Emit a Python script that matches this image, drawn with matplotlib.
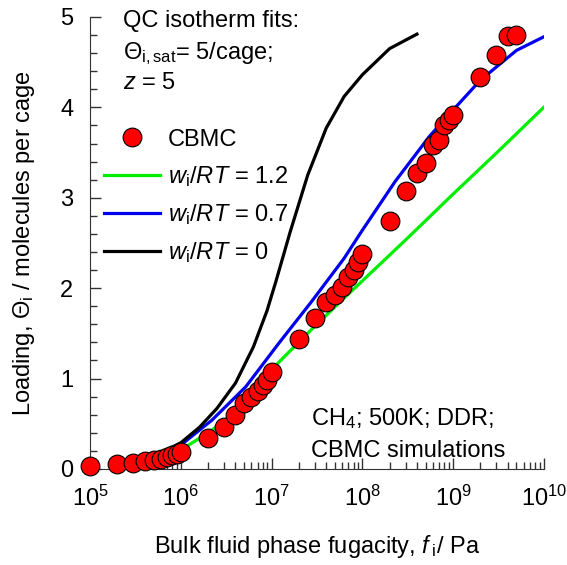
import numpy as np
import matplotlib
matplotlib.use("Agg")
import matplotlib.pyplot as plt
from matplotlib.ticker import LogLocator, MultipleLocator, NullFormatter

plt.rcParams['font.family'] = ['Liberation Sans', 'DejaVu Sans']
plt.rcParams['mathtext.fontset'] = 'custom'
plt.rcParams['mathtext.rm'] = 'Liberation Sans'
plt.rcParams['mathtext.it'] = 'Liberation Sans:italic'
plt.rcParams['mathtext.bf'] = 'Liberation Sans:bold'

# CBMC simulation data
cbmc_f = [1e5, 2e5, 3e5, 4e5, 5e5, 6e5, 7e5, 8e5, 9e5, 1e6,
          2e6, 3e6, 4e6, 5e6, 6e6, 7e6, 8e6, 9e6, 1e7,
          2e7, 3e7, 4e7, 5e7, 6e7, 7e7, 8e7, 9e7, 1e8,
          2e8, 3e8, 4e8, 5e8, 6e8, 7e8, 8e8, 9e8, 1e9,
          2e9, 3e9, 4e9, 5e9]
cbmc_q = [0.03, 0.05, 0.07, 0.09, 0.10, 0.11, 0.13, 0.15, 0.17, 0.19,
          0.34, 0.46, 0.60, 0.73, 0.80, 0.86, 0.93, 0.98, 1.07,
          1.44, 1.67, 1.85, 1.92, 2.01, 2.12, 2.20, 2.29, 2.38,
          2.74, 3.08, 3.27, 3.38, 3.58, 3.64, 3.80, 3.86, 3.92,
          4.34, 4.58, 4.79, 4.80]

# QC isotherm fits
f_w12 = [5e5, 1e6, 2e6, 3.2e6, 5.2e6, 1e7, 2.8e7, 6e7, 1e8,
         3.2e8, 1e9, 3.2e9, 1e10]
q_w12 = [0.10, 0.21, 0.40, 0.55, 0.80, 1.10, 1.55, 1.87, 2.08,
         2.56, 3.04, 3.52, 4.00]

f_w07 = [5e5, 1e6, 2.2e6, 5.2e6, 1.2e7, 2.8e7, 6.3e7, 1e8, 2.3e8,
         5.5e8, 1e9, 2e9, 5e9, 1e10]
q_w07 = [0.12, 0.265, 0.54, 0.91, 1.39, 1.86, 2.33, 2.64, 3.18,
         3.68, 3.97, 4.30, 4.63, 4.78]

f_w0 = [5e5, 1e6, 1.6e6, 2.5e6, 4e6, 6.3e6, 8.9e6, 1.12e7, 1.6e7,
        2.5e7, 4e7, 6.3e7, 1e8, 2e8, 4e8]
q_w0 = [0.14, 0.29, 0.46, 0.67, 0.95, 1.35, 1.75, 2.08, 2.62,
        3.25, 3.77, 4.12, 4.36, 4.65, 4.81]

fs = 17

fig = plt.figure(figsize=(5.67, 5.65), dpi=100)
ax = fig.add_axes([0.159, 0.170, 0.800, 0.800])

ax.plot(cbmc_f, cbmc_q, 'o', ms=13.5, mfc='red', mec='black', mew=0.8,
        label='CBMC', zorder=3, clip_on=False)
ax.plot(f_w12, q_w12, color='#00ee00', lw=2.3, label=r'$w_\mathrm{i}/RT$ = 1.2')
ax.plot(f_w07, q_w07, color='#0000ee', lw=2.3, label=r'$w_\mathrm{i}/RT$ = 0.7')
ax.plot(f_w0, q_w0, color='black', lw=2.3, label=r'$w_\mathrm{i}/RT$ = 0')

ax.set_xscale('log')
ax.set_xlim(1e5, 1e10)
ax.set_ylim(0, 5)
ax.xaxis.set_major_locator(LogLocator(base=10, numticks=10))
ax.xaxis.set_minor_locator(LogLocator(base=10, subs=np.arange(2, 10), numticks=20))
ax.xaxis.set_minor_formatter(NullFormatter())
ax.yaxis.set_major_locator(MultipleLocator(1))
ax.yaxis.set_minor_locator(MultipleLocator(0.2))

for side in ['top', 'right']:
    ax.spines[side].set_visible(False)
for side in ['left', 'bottom']:
    ax.spines[side].set_color('#333333')
ax.tick_params(which='both', direction='in', colors='#333333', labelcolor='black',
               labelsize=fs)
ax.tick_params(which='major', length=8, width=1)
ax.tick_params(which='minor', length=5, width=1)
ax.tick_params(axis='x', which='major', pad=12)
ax.tick_params(axis='y', which='major', pad=12)

ax.set_xlabel(r'Bulk fluid phase fugacity, $f\,_\mathrm{i}$/ Pa', fontsize=fs, labelpad=16)
ax.set_ylabel(r'Loading, $\Theta_\mathrm{i}$ / molecules per cage', fontsize=fs, labelpad=17)

ax.text(0.073, 0.978, 'QC isotherm fits:', transform=ax.transAxes, fontsize=fs, va='baseline')
ax.text(0.073, 0.907, r'$\Theta_\mathrm{i,sat}$= 5/cage;', transform=ax.transAxes, fontsize=fs, va='baseline')
ax.text(0.073, 0.841, r'$z$ = 5', transform=ax.transAxes, fontsize=fs, va='baseline')

ax.text(0.487, 0.097, r'CH$_4$; 500K; DDR;', transform=ax.transAxes, fontsize=fs, va='baseline')
ax.text(0.487, 0.027, 'CBMC simulations', transform=ax.transAxes, fontsize=fs, va='baseline')

ax.legend(loc='upper left', bbox_to_anchor=(0.03, 0.753), frameon=False, fontsize=fs,
          handlelength=2.4, handletextpad=0.3, labelspacing=0.56, borderaxespad=0,
          borderpad=0)

fig.savefig('out.png', dpi=100)
